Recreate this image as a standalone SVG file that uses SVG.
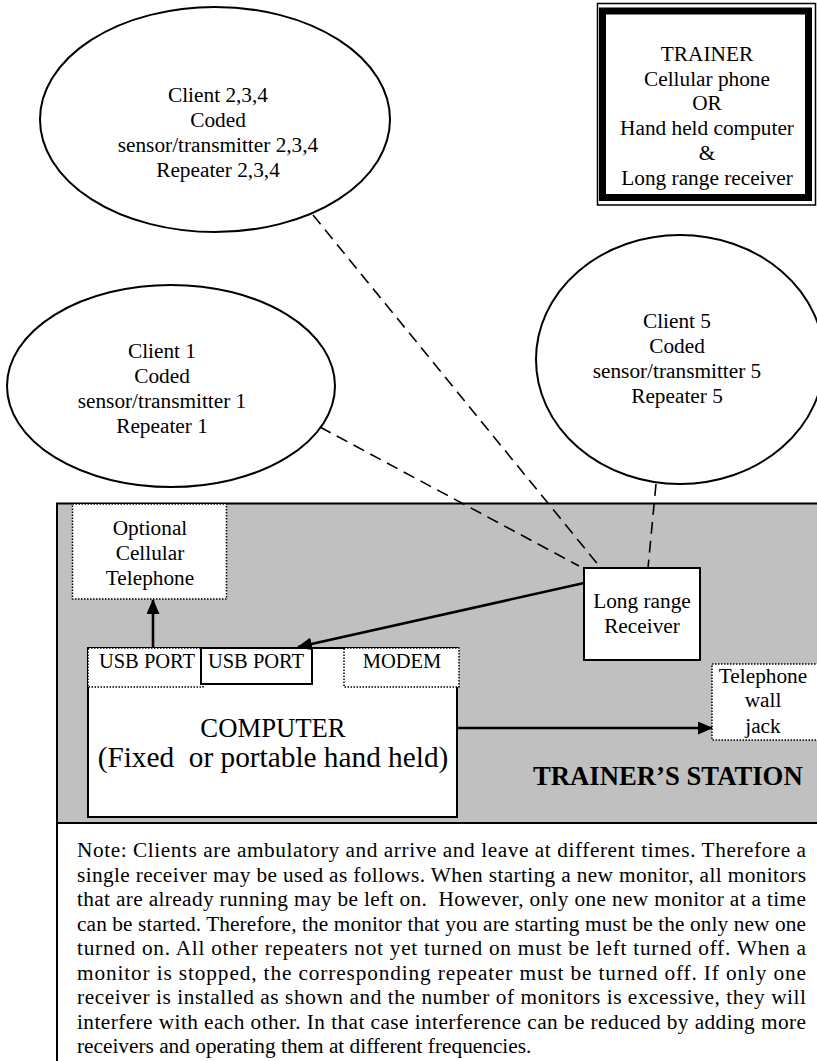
<svg xmlns="http://www.w3.org/2000/svg" width="817" height="1061" viewBox="0 0 817 1061">
  <style>
    text { font-family: "Liberation Serif", "Times New Roman", serif; fill: #000; white-space: pre; }
    .t { font-size: 21.3px; }
    .c { text-anchor: middle; }
    .port { font-size: 20.5px; text-anchor: middle; }
    .ell { fill: #fff; stroke: #000; stroke-width: 2; }
    .box { fill: #fff; stroke: #000; stroke-width: 2; }
    .dot { fill: #fff; stroke: #000; stroke-width: 1.5; stroke-dasharray: 1.5 1.5; }
    .dash { fill: none; stroke: #000; stroke-width: 1.6; stroke-dasharray: 12 7; }
    .solid { fill: none; stroke: #000; stroke-width: 2.6; }
  </style>
  <defs>
    <marker id="arrow" viewBox="0 0 15 13" refX="14" refY="6.5" markerWidth="15" markerHeight="13" markerUnits="userSpaceOnUse" orient="auto">
      <path d="M0,0 L15,6.5 L0,13 z" fill="#000"/>
    </marker>
  </defs>

  <rect width="817" height="1061" fill="#fff"/>

  <!-- client ellipses -->
  <g id="client234">
    <ellipse class="ell" cx="215" cy="119.5" rx="175" ry="112.5"/>
    <text class="t c" x="218" y="102">Client 2,3,4</text>
    <text class="t c" x="218" y="127">Coded</text>
    <text class="t c" x="218" y="152">sensor/transmitter 2,3,4</text>
    <text class="t c" x="218" y="177">Repeater 2,3,4</text>
  </g>

  <g id="client1">
    <ellipse class="ell" cx="171" cy="386" rx="164" ry="101"/>
    <text class="t c" x="162" y="358">Client 1</text>
    <text class="t c" x="162" y="383">Coded</text>
    <text class="t c" x="162" y="408">sensor/transmitter 1</text>
    <text class="t c" x="162" y="433">Repeater 1</text>
  </g>

  <g id="client5">
    <ellipse class="ell" cx="680" cy="359.5" rx="144" ry="124.5"/>
    <text class="t c" x="677" y="328">Client 5</text>
    <text class="t c" x="677" y="353">Coded</text>
    <text class="t c" x="677" y="378">sensor/transmitter 5</text>
    <text class="t c" x="677" y="403">Repeater 5</text>
  </g>

  <!-- trainer unit, double frame -->
  <g id="trainer">
    <rect x="597.5" y="3.5" width="218" height="201.5" fill="#fff" stroke="#000" stroke-width="1.5"/>
    <rect x="602.5" y="11" width="206" height="186.5" fill="none" stroke="#000" stroke-width="7"/>
    <text class="t c" x="707" y="61">TRAINER</text>
    <text class="t c" x="707" y="85.5">Cellular phone</text>
    <text class="t c" x="707" y="110">OR</text>
    <text class="t c" x="707" y="135">Hand held computer</text>
    <text class="t c" x="707" y="159.5">&amp;</text>
    <text class="t c" x="707" y="184.5">Long range receiver</text>
  </g>

  <!-- trainer's station area -->
  <g id="station">
    <rect x="57" y="503.5" width="780" height="320" fill="#c0c0c0" stroke="#000" stroke-width="2"/>
    <text x="533" y="785" font-size="26.7" font-weight="bold">TRAINER’S STATION</text>
  </g>

  <g id="cellphone">
    <rect class="dot" x="72.5" y="504" width="154" height="95"/>
    <text class="t c" x="150" y="535">Optional</text>
    <text class="t c" x="150" y="560">Cellular</text>
    <text class="t c" x="150" y="585">Telephone</text>
  </g>

  <g id="computer">
    <rect class="box" x="88" y="648" width="369" height="169"/>
    <text class="c" x="273" y="737" font-size="26.7">COMPUTER</text>
    <text class="c" x="273" y="767" font-size="29.3" xml:space="preserve">(Fixed  or portable hand held)</text>
  </g>

  <g id="usb-port-1">
    <rect class="dot" x="88" y="648" width="115" height="39"/>
    <text class="port" x="147" y="668">USB PORT</text>
  </g>

  <g id="usb-port-2">
    <rect class="box" x="201" y="648" width="111" height="36"/>
    <text class="port" x="256" y="668">USB PORT</text>
  </g>

  <g id="modem">
    <rect class="dot" x="344" y="648" width="115" height="39"/>
    <text class="port" x="402" y="668">MODEM</text>
  </g>

  <g id="receiver">
    <rect class="box" x="584" y="568" width="116" height="92"/>
    <text class="t c" x="642" y="608">Long range</text>
    <text class="t c" x="642" y="633">Receiver</text>
  </g>

  <g id="wall-jack">
    <rect class="dot" x="712" y="664" width="110" height="76"/>
    <text class="t c" x="763" y="683">Telephone</text>
    <text class="t c" x="763" y="707">wall</text>
    <text class="t c" x="763" y="733">jack</text>
  </g>

  <!-- connectors -->
  <g id="connectors">
    <line class="dash" x1="313" y1="215" x2="600" y2="567"/>
    <line class="dash" x1="320" y1="427" x2="579" y2="566"/>
    <line class="dash" x1="656" y1="484" x2="648" y2="568"/>
    <line class="solid" x1="584" y1="583" x2="298" y2="647" marker-end="url(#arrow)"/>
    <line class="solid" x1="153" y1="648" x2="153" y2="600" marker-end="url(#arrow)"/>
    <line class="solid" x1="457" y1="728" x2="712" y2="728" marker-end="url(#arrow)"/>
  </g>

  <!-- explanatory note -->
  <g id="note">
    <rect x="57" y="823" width="780" height="260" fill="#fff" stroke="#000" stroke-width="2"/>
    <g class="t">
      <text x="77" y="857" textLength="729" lengthAdjust="spacing">Note: Clients are ambulatory and arrive and leave at different times. Therefore a</text>
      <text x="77" y="881.5" textLength="729" lengthAdjust="spacing">single receiver may be used as follows. When starting a new monitor, all monitors</text>
      <text x="77" y="906" textLength="729" lengthAdjust="spacing" xml:space="preserve">that are already running may be left on.  However, only one new monitor at a time</text>
      <text x="77" y="930.5" textLength="729" lengthAdjust="spacing">can be started. Therefore, the monitor that you are starting must be the only new one</text>
      <text x="77" y="955" textLength="729" lengthAdjust="spacing">turned on. All other repeaters not yet turned on must be left turned off. When a</text>
      <text x="77" y="979.5" textLength="729" lengthAdjust="spacing">monitor is stopped, the corresponding repeater must be turned off. If only one</text>
      <text x="77" y="1004" textLength="729" lengthAdjust="spacing">receiver is installed as shown and the number of monitors is excessive, they will</text>
      <text x="77" y="1028.5" textLength="729" lengthAdjust="spacing">interfere with each other. In that case interference can be reduced by adding more</text>
      <text x="77" y="1053">receivers and operating them at different frequencies.</text>
    </g>
  </g>
</svg>
